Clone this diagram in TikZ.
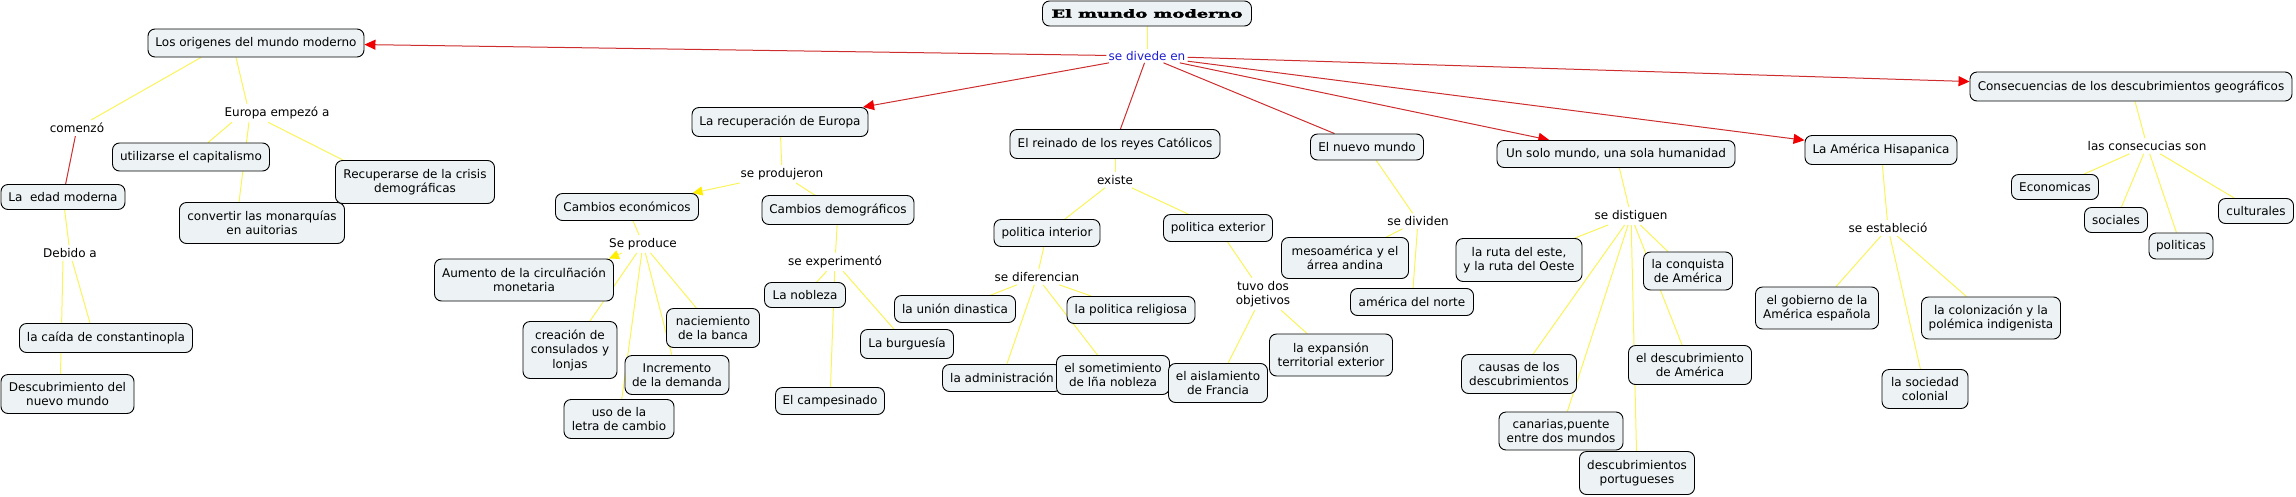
\documentclass[tikz,border=0pt]{standalone}
\usepackage{fontspec}
\usepackage{graphicx}
\newfontfamily\lblfont{DejaVu Sans}
\newfontfamily\titlefont{DejaVu Serif}[BoldFeatures={FakeBold=2}]
\usetikzlibrary{arrows.meta}
\definecolor{boxfill}{RGB}{237,243,245}
\definecolor{ylw}{RGB}{250,244,90}
\definecolor{redl}{RGB}{205,45,45}
\definecolor{arrred}{RGB}{240,0,0}
\definecolor{arrylw}{RGB}{255,238,0}
\definecolor{bluetxt}{RGB}{30,30,210}
\pgfdeclarelayer{bg}
\pgfsetlayers{bg,main}
\newcommand\lbl{\lblfont\fontsize{12}{14.5}\selectfont}
\tikzset{
  cbox/.style={draw=black, line width=0.9pt, rounded corners=7pt, fill=boxfill,
    align=center, font=\lbl, inner xsep=6pt, inner ysep=3pt},
  lab/.style={font=\lbl, inner sep=3pt, align=center},
  yl/.style={draw=ylw, line width=1pt},
  rl/.style={draw=redl, line width=1pt},
  rar/.style={rl, -{Triangle[length=11pt,width=10pt,color=arrred,fill=arrred]}},
  yar/.style={yl, -{Triangle[length=10pt,width=9pt,color=arrylw,fill=arrylw]}},
}
\newcommand\bx[5]{\node[cbox, minimum width=#3, minimum height=#4] (#1) at (#2) {#5};}
\begin{document}
\begin{tikzpicture}[x=1pt,y=-1pt]
\useasboundingbox (0,0) rectangle (2296,496);
% title
\node[cbox, minimum width=209, minimum height=25] (title) at (1147,13.5)
  {\resizebox{191pt}{8.5pt}{\titlefont\bfseries\fontsize{11}{11}\selectfont El mundo moderno}};
\node[lab, text=bluetxt, inner sep=2pt] (divede) at (1147,56) {se divede en};
% left branch
\bx{lo}{256,43}{216}{28}{Los origenes del mundo moderno}
\node[lab] (comenzo) at (77,128) {comenzó};
\node[lab] (europa) at (277,113) {Europa empezó a};
\bx{util}{191,157}{157}{28}{utilizarse el capitalismo}
\bx{convertir}{262,223}{165}{41}{convertir las monarquías\\ en auitorias}
\bx{recup}{415,182}{159}{43}{Recuperarse de la crisis\\ demográficas}
\bx{edad}{63,197}{124}{25}{La~ edad moderna}
\node[lab] (debido) at (70,253) {Debido a};
\bx{caida}{106,338}{173}{29}{la caída de constantinopla}
\bx{descub}{67.5,394}{133}{39}{Descubrimiento del\\ nuevo mundo}
% recuperacion
\bx{recE}{780,122}{176}{29}{La recuperación de Europa}
\node[lab] (produjeron) at (782,174) {se produjeron};
\bx{cecon}{627,207}{143}{27}{Cambios económicos}
\bx{cdemo}{838,210}{152}{29}{Cambios demográficos}
\node[lab] (seproduce) at (643,244) {Se produce};
\bx{aumento}{524,280}{179}{42}{Aumento de la circulñación\\ monetaria}
\bx{creacion}{570,350}{94}{57}{creación de\\ consulados y\\ lonjas}
\bx{naciemiento}{713,328}{93}{39}{naciemiento\\ de la banca}
\bx{incremento}{677,375}{104}{39}{Incremento\\ de la demanda}
\bx{uso}{619,419}{110}{39}{uso de la\\ letra de cambio}
\node[lab] (experimento) at (835,262) {se experimentó};
\bx{nobleza}{805,295}{81}{25}{La nobleza}
\bx{burguesia}{907,344}{93}{29}{La burguesía}
\bx{campesinado}{830,401}{109}{27}{El campesinado}
% reinado
\bx{reinado}{1115,144}{210}{29}{El reinado de los reyes Católicos}
\node[lab] (existe) at (1115,180) {existe};
\bx{pinterior}{1047,233}{106}{27}{politica interior}
\bx{pexterior}{1218,228}{109}{27}{politica exterior}
\node[lab] (diferencian) at (1037,277) {se diferencian};
\bx{union}{955,309}{121}{27}{la unión dinastica}
\bx{religiosa}{1131,310}{128}{27}{la politica religiosa}
\bx{admin}{1002,378}{119}{27}{la administración}
\bx{sometimiento}{1113,375}{113}{39}{el sometimiento\\ de lña nobleza}
\node[lab] (tuvo) at (1263,294) {tuvo dos\\ objetivos};
\bx{aislamiento}{1218,383}{99}{39}{el aislamiento\\ de Francia}
\bx{expansion}{1331,355}{123}{42}{la expansión\\ territorial exterior}
% nuevo mundo
\bx{nuevo}{1367,147}{113}{26}{El nuevo mundo}
\node[lab] (dividen) at (1418,221) {se dividen};
\bx{meso}{1345,258}{127}{41}{mesoamérica y el\\ árrea andina}
\bx{norte}{1412,302}{123}{27}{américa del norte}
% un solo mundo
\bx{unsolo}{1616,154}{238}{27}{Un solo mundo, una sola humanidad}
\node[lab] (distiguen) at (1631,216) {se distiguen};
\bx{ruta}{1519,260}{126}{43}{la ruta del este,\\ y la ruta del Oeste}
\bx{conquista}{1688,271}{89}{38}{la conquista\\ de América}
\bx{causas}{1519,374}{115}{39}{causas de los\\ descubrimientos}
\bx{descAm}{1690,365}{123}{39}{el descubrimiento\\ de América}
\bx{canarias}{1561,431}{124}{38}{canarias,puente\\ entre dos mundos}
\bx{portugueses}{1637,473}{115}{43}{descubrimientos\\ portugueses}
% america hispanica
\bx{america}{1881,150}{152}{29}{La América Hisapanica}
\node[lab] (establecio) at (1888,228) {se estableció};
\bx{gobierno}{1817,308}{123}{42}{el gobierno de la\\ América española}
\bx{colonizacion}{1991,318}{139}{42}{la colonización y la\\ polémica indigenista}
\bx{sociedad}{1925,389}{86}{39}{la sociedad\\ colonial}
% consecuencias
\bx{consec}{2131,86.5}{322}{29}{Consecuencias de los descubrimientos geográficos}
\node[lab] (consecucias) at (2147,146) {las consecucias son};
\bx{economicas}{2055,187}{87}{25}{Economicas}
\bx{sociales}{2116,220}{63}{25}{sociales}
\bx{politicas}{2181,246}{64}{26}{politicas}
\bx{culturales}{2256,211}{75}{25}{culturales}

\begin{pgfonlayer}{bg}
\draw[yl] (title) -- (divede);
\draw[rar] (divede) -- (lo);
\draw[rar] (divede) -- (recE);
\draw[rl] (divede) -- (reinado);
\draw[rl] (divede) -- (nuevo);
\draw[rar] (divede) -- (unsolo);
\draw[rar] (divede) -- (america);
\draw[rar] (divede) -- (consec);
% left
\draw[yl] ([xshift=-55pt]lo.south) -- (comenzo);
\draw[yl] ([xshift=-20pt]lo.south) -- ([xshift=-30pt]europa.north);
\draw[yl] ([xshift=-45pt]europa.south) -- (util);
\draw[yl] ([xshift=-28pt]europa.south) -- ([xshift=-23pt]convertir.north);
\draw[yl] ([xshift=-9pt]europa.south) -- ([xshift=8pt]recup.north west);
\draw[rl] (comenzo) -- (edad);
\draw[yl] (edad) -- (debido);
\draw[yl] (debido) -- ([xshift=-16pt]caida.north);
\draw[yl] ([xshift=-7pt]debido.south) -- ([xshift=-7pt]descub.north);
% recuperacion
\draw[yl] (recE) -- (produjeron);
\draw[yar] (produjeron) -- (cecon);
\draw[yl] (produjeron) -- (cdemo);
\draw[yl] (cecon) -- (seproduce);
\draw[yar] (seproduce) -- ([xshift=-5pt]aumento.north east);
\draw[yl] (seproduce) -- (creacion);
\draw[yl] (seproduce) -- (uso);
\draw[yl] (seproduce) -- (incremento);
\draw[yl] (seproduce) -- (naciemiento);
\draw[yl] (cdemo) -- (experimento);
\draw[yl] (experimento) -- (nobleza);
\draw[yl] (experimento) -- (campesinado);
\draw[yl] (experimento) -- (burguesia);
% reinado
\draw[yl] (reinado) -- (existe);
\draw[yl] (existe) -- (pinterior);
\draw[yl] (existe) -- (pexterior);
\draw[yl] (pinterior) -- (diferencian);
\draw[yl] (diferencian) -- (union);
\draw[yl] (diferencian) -- (admin);
\draw[yl] (diferencian) -- (sometimiento);
\draw[yl] (diferencian) -- (religiosa);
\draw[yl] (pexterior) -- (tuvo);
\draw[yl] (tuvo) -- (aislamiento);
\draw[yl] (tuvo) -- (expansion);
% nuevo mundo
\draw[yl] (nuevo) -- (dividen);
\draw[yl] (dividen) -- (meso);
\draw[yl] (dividen) -- (norte);
% un solo mundo
\draw[yl] (unsolo) -- (distiguen);
\draw[yl] (distiguen) -- (ruta);
\draw[yl] (distiguen) -- (causas);
\draw[yl] (distiguen) -- (canarias);
\draw[yl] (distiguen) -- (portugueses);
\draw[yl] (distiguen) -- (conquista);
\draw[yl] (distiguen) -- (descAm);
% america
\draw[yl] (america) -- (establecio);
\draw[yl] (establecio) -- (gobierno);
\draw[yl] (establecio) -- (sociedad);
\draw[yl] (establecio) -- (colonizacion);
% consecuencias
\draw[yl] (consec) -- (consecucias);
\draw[yl] (consecucias) -- (economicas);
\draw[yl] (consecucias) -- (sociales);
\draw[yl] (consecucias) -- (politicas);
\draw[yl] (consecucias) -- (culturales);
\end{pgfonlayer}
\end{tikzpicture}
\end{document}
